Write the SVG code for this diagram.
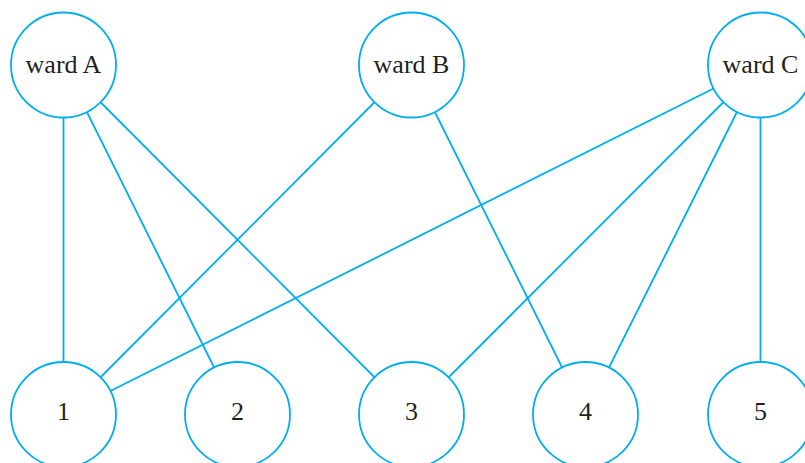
<svg xmlns="http://www.w3.org/2000/svg" width="805" height="463" viewBox="0 0 805 463">
<style>
.edge{stroke:#00aeef;stroke-width:1.8;fill:none}
.node circle{fill:#fff;stroke:#00aeef;stroke-width:1.8}
.node text{font-family:"Liberation Serif","Times New Roman",serif;font-size:26px;fill:#231f20;text-anchor:middle}
</style>
<rect width="805" height="463" fill="#fff"/>
<g id="connectors">
<line class="edge" x1="63.5" y1="65" x2="63.5" y2="414.5"/>
<line class="edge" x1="63.5" y1="65" x2="237.5" y2="414.5"/>
<line class="edge" x1="63.5" y1="65" x2="411.5" y2="414.5"/>
<line class="edge" x1="411.5" y1="65" x2="63.5" y2="414.5"/>
<line class="edge" x1="411.5" y1="65" x2="585.5" y2="414.5"/>
<line class="edge" x1="760.5" y1="65" x2="63.5" y2="414.5"/>
<line class="edge" x1="760.5" y1="65" x2="411.5" y2="414.5"/>
<line class="edge" x1="760.5" y1="65" x2="585.5" y2="414.5"/>
<line class="edge" x1="760.5" y1="65" x2="760.5" y2="414.5"/>
</g>
<g id="wardA" class="node"><circle cx="63.5" cy="65" r="52.5"/><text x="63.5" y="73">ward A</text></g>
<g id="wardB" class="node"><circle cx="411.5" cy="65" r="52.5"/><text x="411.5" y="73">ward B</text></g>
<g id="wardC" class="node"><circle cx="760.5" cy="65" r="52.5"/><text x="760.5" y="73">ward C</text></g>
<g id="n1" class="node"><circle cx="63.5" cy="414.5" r="52.5"/><text x="63.5" y="420">1</text></g>
<g id="n2" class="node"><circle cx="237.5" cy="414.5" r="52.5"/><text x="237.5" y="420">2</text></g>
<g id="n3" class="node"><circle cx="411.5" cy="414.5" r="52.5"/><text x="411.5" y="420">3</text></g>
<g id="n4" class="node"><circle cx="585.5" cy="414.5" r="52.5"/><text x="585.5" y="420">4</text></g>
<g id="n5" class="node"><circle cx="760.5" cy="414.5" r="52.5"/><text x="760.5" y="420">5</text></g>
</svg>
